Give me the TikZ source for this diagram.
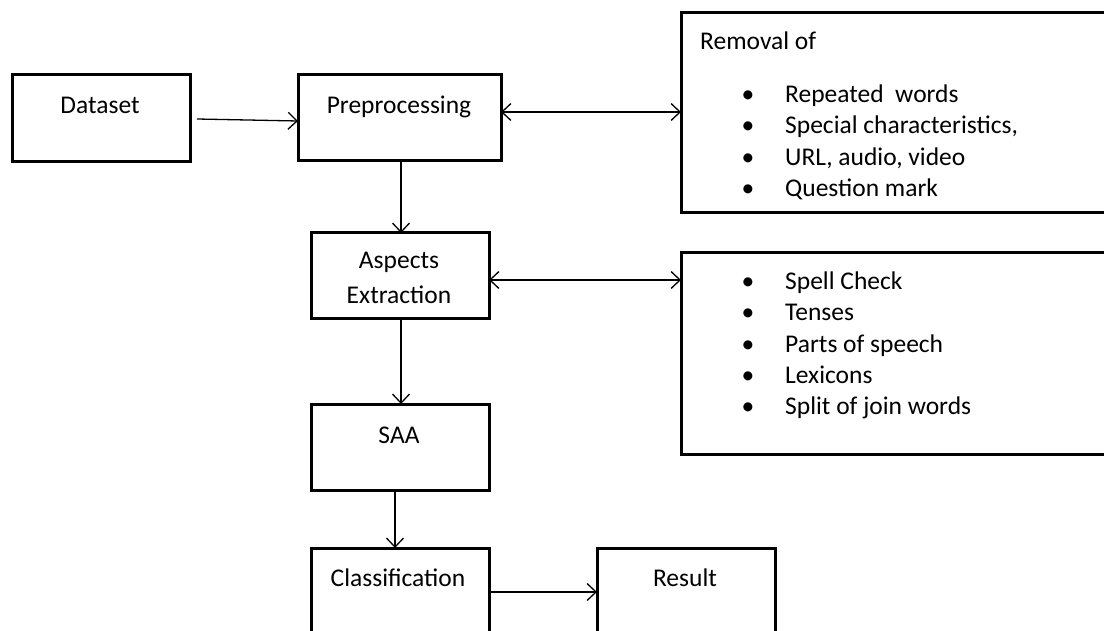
\documentclass[tikz,border=0pt]{standalone}
\usepackage{fontspec}
\setmainfont{Carlito}
\usetikzlibrary{arrows.meta}
\begin{document}
\begin{tikzpicture}[x=1pt,y=-1pt,
  box/.style={draw,line width=3pt},
  conn/.style={line width=1.3pt,-{Straight Barb[length=9pt,width=17pt,line width=1.3pt]}},
  dconn/.style={line width=1.3pt,{Straight Barb[length=9pt,width=17pt,line width=1.3pt]}-{Straight Barb[length=9pt,width=17pt,line width=1.3pt]}},
  lbl/.style={font=\fontsize{25.5}{30}\selectfont,inner sep=0pt,text height=0.7em,text depth=0.2em},
  itm/.style={lbl,anchor=west},
  bul/.style={font=\fontsize{25.5}{30}\selectfont,inner sep=0pt,text height=0.7em,text depth=0.2em}]
\useasboundingbox (0,0) rectangle (1104,631);
\fill[white] (0,0) rectangle (1104,631);
\begin{scope}
\clip (0,0) rectangle (1104,631);
% boxes
\draw[box] (12,75) rectangle (190,162);
\draw[box] (298,75) rectangle (501,161);
\draw[box] (681,13) rectangle (1120,213);
\draw[box] (311,233) rectangle (489,319);
\draw[box] (681,253) rectangle (1120,454);
\draw[box] (311,404) rectangle (489,490);
\draw[box] (311,548) rectangle (489,650);
\draw[box] (597,548) rectangle (775,650);
\end{scope}
% named anchor coordinates on box edges
\coordinate (dsR) at (197,119);
\coordinate (ppL) at (298,121);
\coordinate (ppR) at (501,112);
\coordinate (rmL) at (681,112);
\coordinate (ppB) at (401,161);
\coordinate (aeT) at (401,233);
\coordinate (aeR) at (489,280);
\coordinate (skL) at (681,280);
\coordinate (aeB) at (401,319);
\coordinate (saT) at (401,404);
\coordinate (saB) at (395,490);
\coordinate (clT) at (395,548);
\coordinate (clR) at (489,592);
\coordinate (rsL) at (597,592);
% texts
\node[lbl] (tds) at (100,111) {Dataset};
\node[lbl] (tpp) at (399,111) {Preprocessing};
\node[lbl] (tae1) at (399,266) {Aspects};
\node[lbl] (tae2) at (399,301) {Extraction};
\node[lbl] (tsa) at (399,441) {SAA};
\node[lbl] (tcl) at (398,584) {Classification};
\node[lbl] (trs) at (685,584) {Result};
\node[itm] (trm) at (700,47) {Removal of};
\foreach \yy/\tt [count=\i] in {100/Repeated\ \ words,131/Special characteristics{,},163/{URL, audio, video},194/Question mark}{
  \node[bul] (b1\i) at (748,\yy) {\textbullet};
  \node[itm] (t1\i) at (785,\yy) {\tt};
}
\foreach \yy/\tt [count=\i] in {287/Spell Check,318/Tenses,350/Parts of speech,381/Lexicons,412/Split of join words}{
  \node[bul] (b2\i) at (748,\yy) {\textbullet};
  \node[itm] (t2\i) at (785,\yy) {\tt};
}
% connectors
\draw[conn] (dsR) -- (ppL);
\draw[dconn] (ppR) -- (rmL);
\draw[conn] (ppB) -- (aeT);
\draw[dconn] (aeR) -- (skL);
\draw[conn] (aeB) -- (saT);
\draw[conn] (saB) -- (clT);
\draw[conn] (clR) -- (rsL);
\end{tikzpicture}
\end{document}
